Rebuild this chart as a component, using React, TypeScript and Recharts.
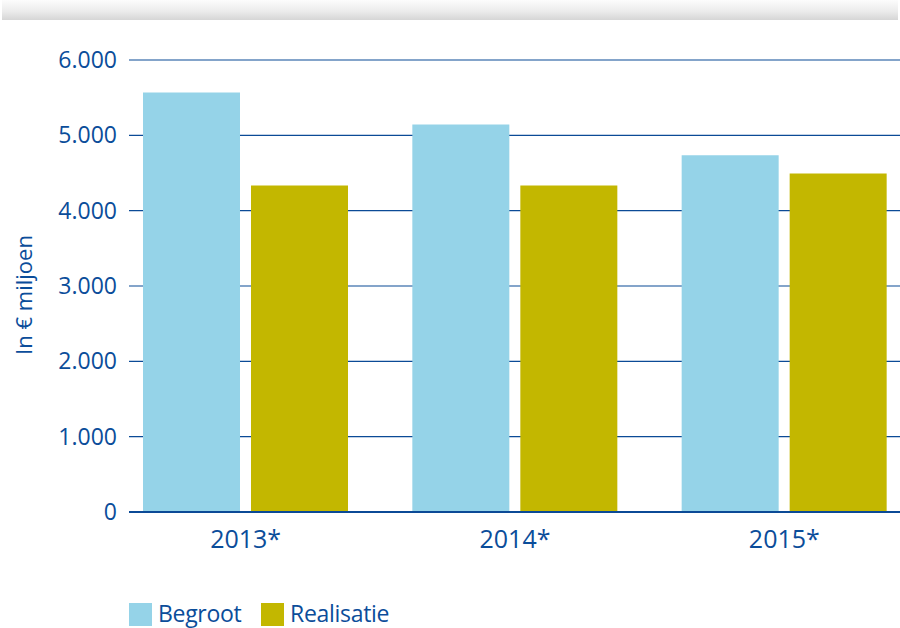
import React from 'react';
import { BarChart, Bar, XAxis, YAxis, CartesianGrid, Label } from 'recharts';

const years = ['2013*', '2014*', '2015*'];
const begroot = [5570, 5145, 4735];
const realisatie = [4335, 4335, 4495];
const yTicks = [0, 1000, 2000, 3000, 4000, 5000, 6000];

const BLUE_TEXT = '#0b4d9a';
const GRID = '#0b4a96';
const BEGROOT_COLOR = '#95d3e8';
const REALISATIE_COLOR = '#c3b700';
const FONT = '"Open Sans", sans-serif';

const data = years.map((year, i) => ({
    year,
    begroot: begroot[i],
    realisatie: realisatie[i],
}));

const formatTick = (v: number) => (v === 0 ? '0' : `${v / 1000}.000`);

const YLabel = ({ viewBox }: any) => {
    const cx = viewBox.x + 23;
    const cy = viewBox.y + viewBox.height / 2 + 9;
    return (
        <text
            x={cx}
            y={cy}
            transform={`rotate(-90, ${cx}, ${cy})`}
            textAnchor="middle"
            dominantBaseline="central"
            fill={BLUE_TEXT}
            fontSize={22}
            fontFamily={FONT}
        >
            In € miljoen
        </text>
    );
};

const LegendItem = ({ color, label, width }: { color: string; label: string; width?: number }) => (
    <div style={{ display: 'flex', alignItems: 'flex-start', width }}>
        <div style={{ width: 23, height: 23, background: color, marginRight: 6 }} />
        <span
            style={{
                fontSize: 23,
                lineHeight: '24px',
                color: BLUE_TEXT,
                fontFamily: FONT,
                marginTop: -2,
                letterSpacing: -0.3,
            }}
        >
            {label}
        </span>
    </div>
);

export default function App() {
    return (
        <div
            style={{
                position: 'relative',
                width: 900,
                height: 628,
                overflow: 'hidden',
                background: '#fff',
            }}
        >
            <style>{'body { margin: 0; overflow: hidden; }'}</style>
            <div
                style={{
                    position: 'absolute',
                    left: 2,
                    top: 0,
                    width: 896,
                    height: 20,
                    background: 'linear-gradient(to bottom, #fcfcfc 0%, #ececec 55%, #d6d6d6 100%)',
                }}
            />
            <div style={{ position: 'absolute', left: 0, top: 0 }}>
                <BarChart
                    width={940}
                    height={628}
                    data={data}
                    margin={{ top: 60, right: 21, left: 0, bottom: 0 }}
                    barSize={97}
                    barGap={11}
                >
                    <XAxis
                        dataKey="year"
                        height={116}
                        padding={{ left: -18, right: 0 }}
                        tickLine={false}
                        tickSize={0}
                        tickMargin={18}
                        axisLine={{ stroke: GRID, strokeWidth: 2 }}
                        tick={{ fill: BLUE_TEXT, fontSize: 25, fontFamily: FONT }}
                    />
                    <YAxis
                        width={129}
                        domain={[0, 6000]}
                        ticks={yTicks}
                        tickFormatter={formatTick}
                        tickLine={false}
                        axisLine={false}
                        tickSize={0}
                        tickMargin={12}
                        tick={{ fill: BLUE_TEXT, fontSize: 23, fontFamily: FONT }}
                    >
                        <Label content={<YLabel />} />
                    </YAxis>
                    <Bar dataKey="begroot" name="Begroot" fill={BEGROOT_COLOR} isAnimationActive={false} />
                    <Bar dataKey="realisatie" name="Realisatie" fill={REALISATIE_COLOR} isAnimationActive={false} />
                    <CartesianGrid vertical={false} stroke={GRID} strokeWidth={1.2} strokeOpacity={1} />
                </BarChart>
            </div>
            <div style={{ position: 'absolute', left: 129, top: 603, display: 'flex' }}>
                <LegendItem color={BEGROOT_COLOR} label="Begroot" width={132} />
                <LegendItem color={REALISATIE_COLOR} label="Realisatie" />
            </div>
        </div>
    );
}
